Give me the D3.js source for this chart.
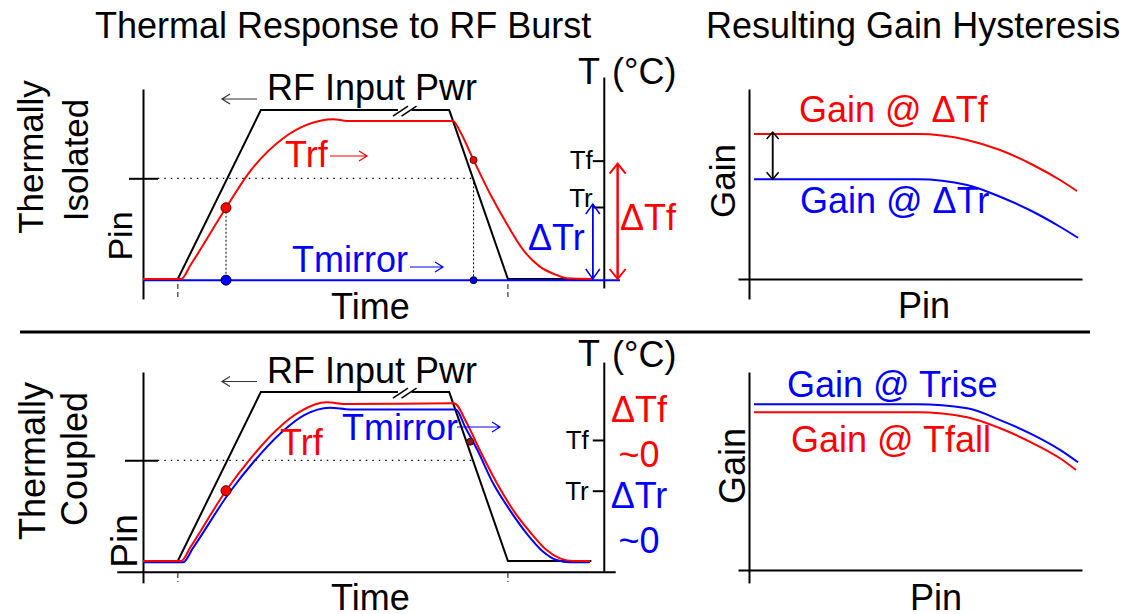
<!DOCTYPE html>
<html>
<head>
<meta charset="utf-8">
<script src="https://cdn.jsdelivr.net/npm/d3@7"></script>
<style>
  body { margin: 0; background: #fff; }
  svg { display: block; font-family: "Liberation Sans", Arial, sans-serif; }
</style>
</head>
<body>
<div id="chart"></div>
<script>
const width = 1141;
const height = 614;

// time in % of the sweep, level in % of the axis height
const rfInput = [[0, 0], [7.3, 0], [24.7, 88.9], [64.2, 88.9], [76.5, 0], [94, 0]];
const timeMarks = [7.3, 76.5];
const breakMarks = [52.4, 54.2];
const pinLevel = 53;
const tempLabels = ['Tr', 'Tf'];

// thermally isolated
const trfIsolated = [[0, 0], [8, 0], [10, 7.5], [17.4, 37.5], [22.4, 56.5], [29.4, 74.1], [34.3, 81.1],
  [39.9, 84.1], [42.8, 83.2], [65, 83.2], [66.5, 77.5], [69.3, 62.6], [72.7, 45.1], [76.2, 29.3],
  [79.7, 15.3], [83.2, 6.5], [86.7, 2.1], [88.8, 0.4], [94.3, 0]];
const tmirrorIsolated = [[0, -0.6], [100, -0.6]];
const redDotsIsolated = [[17.4, 37.5], [69.3, 62.6]];
const blueDotsIsolated = [[17.4, -0.6], [69.3, -0.6]];
const dropLinesIsolated = [[17.4, 37.5], [69.3, 53]];
const tempTicksIsolated = [37.9, 62.3];

// thermally coupled
const trfCoupled = [[0, 0], [8, 0], [10, 7.5], [17.4, 37], [22.4, 53.5], [28, 69], [32.9, 78.6],
  [38.5, 83.5], [42.7, 82.6], [65.2, 83], [67.9, 72.5], [70.6, 58.4], [74.2, 40.9], [77.6, 26.8],
  [81.1, 15.4], [84.6, 5.8], [87.4, 1.4], [90.2, 0], [93.7, 0]];
const tmirrorCoupled = [[0, -0.7], [8.4, -0.7], [10.4, 6.5], [18.2, 36.3], [23.3, 52.5], [28.9, 67.4],
  [33.8, 76.8], [39.2, 80.7], [43.4, 79.8], [65.6, 79.8], [67.5, 70.7], [70.1, 58.4], [73.4, 40.9],
  [76.9, 26.8], [80.4, 14.6], [83.9, 4.9], [86.7, 0.5], [89.5, -0.7], [93.7, -0.7]];
const redDotsCoupled = [[17.4, 37], [68.6, 62.8]];
const tempTicksCoupled = [37, 63.7];

// gain vs input power
const gainFallIsolated = [[1.5, 76.3], [50.5, 76.3], [65.5, 73.2], [75.4, 67.9], [85.3, 60], [93.4, 52.1], [98.5, 46.3]];
const gainRiseIsolated = [[1.5, 52.5], [50.5, 52.5], [65.5, 49.5], [75.4, 43.3], [85.3, 35.4], [93.4, 27.5], [98.8, 21.7]];
const gainRiseCoupled = [[1.5, 87.2], [50.5, 87.2], [65.5, 85.1], [75.4, 78.9], [85.3, 71.1], [93.4, 63.2], [98.8, 56.7]];
const gainFallCoupled = [[1.5, 83], [50.5, 83], [65.5, 80.4], [75.4, 74.6], [85.3, 66.7], [93.4, 58.8], [98.2, 52.6]];

const svg = d3.select('#chart')
  .append('svg')
  .attr('width', width)
  .attr('height', height);

const x = d3.scaleLinear().domain([0, 100]).range([143, 620]);
const xPin = d3.scaleLinear().domain([0, 100]).range([749, 1082]);

function text(str, tx, ty, opts) {
  opts = opts || {};
  const t = svg.append('text')
    .attr('font-size', opts.size || 36)
    .attr('fill', opts.color || '#000')
    .attr('text-anchor', opts.anchor || 'start')
    .text(str);
  if (opts.rotate) t.attr('transform', 'translate(' + tx + ',' + ty + ') rotate(-90)');
  else t.attr('x', tx).attr('y', ty);
  return t;
}

function arrow(x1, y1, x2, y2, color, w, hl, hw) {
  const len = Math.hypot(x2 - x1, y2 - y1);
  const ux = (x2 - x1) / len, uy = (y2 - y1) / len;
  const bx = x2 - ux * hl, by = y2 - uy * hl;
  svg.append('path')
    .attr('d', 'M' + x1 + ',' + y1 + 'L' + x2 + ',' + y2 +
      'M' + (bx - uy * hw) + ',' + (by + ux * hw) + 'L' + x2 + ',' + y2 + 'L' + (bx + uy * hw) + ',' + (by - ux * hw))
    .attr('fill', 'none')
    .attr('stroke', color)
    .attr('stroke-width', w);
}

function styleAxis(g) {
  g.selectAll('path, line').attr('stroke-width', 2);
  g.attr('font-family', null);
}

const panels = [
  { base: 279, pinAxis: [-10.5, 100], pinTick: 14, tAxis: [-4.7, 106.3], tTicks: tempTicksIsolated,
    tPad: 0, trShift: -9, marks: [-2.6, -10], trf: trfIsolated, tmirror: tmirrorIsolated,
    redDots: redDotsIsolated, blueDots: blueDotsIsolated, drops: dropLinesIsolated, guideEnd: 69.5 },
  { base: 561, pinAxis: [-11.5, 99.5], pinTick: 18, tAxis: [-5.3, 104.7], tTicks: tempTicksCoupled,
    tPad: 4, trShift: 0, marks: [-6.3, -11], trf: trfCoupled, tmirror: tmirrorCoupled,
    redDots: redDotsCoupled, blueDots: [], drops: [], guideEnd: 69, timeAxis: [-5.5, 99] }
];

panels.forEach(function(p, k) {
  const off = k * 282.5;
  const y = d3.scaleLinear().domain([0, 100]).range([p.base, p.base - 190]);
  const curve = d3.line().x(d => x(d[0])).y(d => y(d[1])).curve(d3.curveMonotoneX);

  // Pin axis with the single Pin level tick
  const pinScale = d3.scaleLinear().domain(p.pinAxis).range(p.pinAxis.map(y));
  const pinAxis = svg.append('g')
    .attr('transform', 'translate(' + x(0) + ',0)')
    .call(d3.axisLeft(pinScale).tickValues([pinLevel]).tickSize(p.pinTick).tickSizeOuter(0).tickFormat(''));
  styleAxis(pinAxis);
  pinAxis.selectAll('.tick line').attr('x1', 15);

  if (p.timeAxis) {
    const timeScale = d3.scaleLinear().domain(p.timeAxis).range(p.timeAxis.map(x));
    const tg = svg.append('g')
      .attr('transform', 'translate(0,' + y(-5.6) + ')')
      .call(d3.axisBottom(timeScale).tickValues([]).tickSizeOuter(0));
    styleAxis(tg);
  }

  // temperature axis
  const tScale = d3.scaleLinear().domain(p.tAxis).range(p.tAxis.map(y));
  const tAxis = svg.append('g')
    .attr('transform', 'translate(' + x(96.6) + ',0)')
    .call(d3.axisLeft(tScale).tickValues(p.tTicks).tickSize(11).tickSizeOuter(0).tickPadding(p.tPad)
      .tickFormat((d, i) => tempLabels[i]));
  styleAxis(tAxis);
  tAxis.selectAll('.tick text')
    .attr('font-size', 26)
    .attr('fill', '#000')
    .attr('y', (d, i) => i === 0 ? p.trShift : 0);

  // dashed time markers under the axis
  svg.append('g').selectAll('line')
    .data(timeMarks)
    .join('line')
    .attr('x1', d => x(d)).attr('x2', d => x(d))
    .attr('y1', y(p.marks[0])).attr('y2', y(p.marks[1]))
    .attr('stroke', '#333').attr('stroke-width', 1.2).attr('stroke-dasharray', '5,3');

  // dotted Pin level guide
  svg.append('line')
    .attr('x1', x(3.1)).attr('x2', x(p.guideEnd))
    .attr('y1', y(pinLevel)).attr('y2', y(pinLevel))
    .attr('stroke', '#000').attr('stroke-width', 1.3).attr('stroke-dasharray', '1.5,5');

  svg.append('g').selectAll('line')
    .data(p.drops)
    .join('line')
    .attr('x1', d => x(d[0])).attr('x2', d => x(d[0]))
    .attr('y1', d => y(d[1])).attr('y2', y(0))
    .attr('stroke', '#000').attr('stroke-width', 1).attr('stroke-dasharray', '2,2');

  // RF input burst
  svg.append('path')
    .attr('d', d3.line().x(d => x(d[0])).y(d => y(d[1]))(rfInput))
    .attr('fill', 'none').attr('stroke', '#000').attr('stroke-width', 2);

  const plat = y(rfInput[2][1]);
  svg.append('line')
    .attr('x1', x(breakMarks[0]) + 5).attr('x2', x(breakMarks[1]) + 10)
    .attr('y1', plat).attr('y2', plat)
    .attr('stroke', '#fff').attr('stroke-width', 4);
  svg.append('g').selectAll('line')
    .data(breakMarks)
    .join('line')
    .attr('x1', d => x(d)).attr('x2', d => x(d) + 15)
    .attr('y1', plat + 6).attr('y2', plat - 4)
    .attr('stroke', '#000').attr('stroke-width', 1.5);

  svg.append('path')
    .attr('d', curve(p.tmirror))
    .attr('fill', 'none').attr('stroke', '#0000ff').attr('stroke-width', 2);
  svg.append('path')
    .attr('d', curve(p.trf))
    .attr('fill', 'none').attr('stroke', '#ff0000').attr('stroke-width', 2);

  svg.append('g').selectAll('circle')
    .data(p.blueDots)
    .join('circle')
    .attr('cx', d => x(d[0])).attr('cy', d => y(d[1]))
    .attr('r', (d, i) => i === 0 ? 5 : 3.5)
    .attr('fill', '#0000ff').attr('stroke', '#000033').attr('stroke-width', 1);
  svg.append('g').selectAll('circle')
    .data(p.redDots)
    .join('circle')
    .attr('cx', d => x(d[0])).attr('cy', d => y(d[1]))
    .attr('r', (d, i) => i === 0 ? 5 : 3.5)
    .attr('fill', (d, i) => k === 1 && i === 1 ? '#802020' : '#ff0000')
    .attr('stroke', '#550000').attr('stroke-width', 1);

  // labels
  text('RF Input Pwr', 267, 100 + off);
  arrow(257, 99 + off, 222, 99 + off, '#333', 1.2, 8, 5);
  text('T', 578, 84 + off - (k ? 0.5 : 0));
  text('(°C)', 612, 84 + off);
  text('Time', 331, k ? 610 : 319);
});

// isolated panel annotations
text('Trf', 285, 167, { color: '#ff0000' });
arrow(330, 156, 367, 156, '#ff0000', 1.2, 8, 5);
text('Tmirror', 292, 272, { color: '#0000ff' });
arrow(410, 267, 443, 267, '#0000ff', 1.2, 8, 5);
const yIso = d3.scaleLinear().domain([0, 100]).range([279, 89]);
arrow(x(99.5), yIso(tempTicksIsolated[1]) + 3, x(99.5), yIso(0), '#ff0000', 2, 10, 8);
arrow(x(99.5), yIso(0), x(99.5), yIso(tempTicksIsolated[1]) + 3, '#ff0000', 2, 10, 8);
arrow(x(94.3), yIso(tempTicksIsolated[0]) - 3, x(94.3), yIso(0), '#0000ff', 1.5, 10, 7);
arrow(x(94.3), yIso(0), x(94.3), yIso(tempTicksIsolated[0]) - 3, '#0000ff', 1.5, 10, 7);
text('ΔTr', 528, 250, { color: '#0000ff' });
text('ΔTf', 620, 230, { color: '#ff0000' });

// coupled panel annotations
text('Trf', 280, 455, { color: '#ff0000' });
text('Tmirror', 342, 440, { color: '#0000ff' });
arrow(457, 427, 500, 427, '#0000ff', 1.2, 8, 5);
text('ΔTf', 639, 422, { color: '#ff0000', anchor: 'middle' });
text('~0', 639, 467, { color: '#ff0000', anchor: 'middle' });
text('ΔTr', 639, 508, { color: '#0000ff', anchor: 'middle' });
text('~0', 639, 553, { color: '#0000ff', anchor: 'middle' });

// row labels
text('Thermally', 43, 157, { rotate: true, anchor: 'middle', size: 35 });
text('Isolated', 88, 160, { rotate: true, anchor: 'middle', size: 35 });
text('Pin', 132, 236, { rotate: true, anchor: 'middle', size: 34 });
text('Thermally', 45, 461, { rotate: true, anchor: 'middle', size: 36 });
text('Coupled', 87, 459, { rotate: true, anchor: 'middle', size: 36 });
text('Pin', 137, 541, { rotate: true, anchor: 'middle', size: 37 });

// titles and divider
text('Thermal Response to RF Burst', 95, 38);
text('Resulting Gain Hysteresis', 706, 38);
svg.append('line')
  .attr('x1', 20).attr('x2', 1090).attr('y1', 332).attr('y2', 332)
  .attr('stroke', '#000').attr('stroke-width', 3);

// gain panels
const gainPanels = [
  { base: 279, gainAxis: [-10.5, 100], upper: gainFallIsolated, lower: gainRiseIsolated,
    upperColor: '#ff0000', lowerColor: '#0000ff' },
  { base: 570, gainAxis: [-6.8, 104.2], upper: gainRiseCoupled, lower: gainFallCoupled,
    upperColor: '#0000ff', lowerColor: '#ff0000' }
];

gainPanels.forEach(function(p) {
  const yg = d3.scaleLinear().domain([0, 100]).range([p.base, p.base - 190]);
  const gainScale = d3.scaleLinear().domain(p.gainAxis).range(p.gainAxis.map(yg));
  const ga = svg.append('g')
    .attr('transform', 'translate(' + xPin(0) + ',0)')
    .call(d3.axisLeft(gainScale).tickValues([]).tickSizeOuter(0));
  styleAxis(ga);
  const pinDomain = [-3.3, 100];
  const pinScale = d3.scaleLinear().domain(pinDomain).range(pinDomain.map(xPin));
  const pa = svg.append('g')
    .attr('transform', 'translate(0,' + p.base + ')')
    .call(d3.axisBottom(pinScale).tickValues([]).tickSizeOuter(0));
  styleAxis(pa);

  const curve = d3.line().x(d => xPin(d[0])).y(d => yg(d[1])).curve(d3.curveMonotoneX);
  svg.append('path').attr('d', curve(p.lower))
    .attr('fill', 'none').attr('stroke', p.lowerColor).attr('stroke-width', 2);
  svg.append('path').attr('d', curve(p.upper))
    .attr('fill', 'none').attr('stroke', p.upperColor).attr('stroke-width', 2);
});

// hysteresis gap arrow
const yGainIso = d3.scaleLinear().domain([0, 100]).range([279, 89]);
arrow(xPin(7.1), yGainIso(gainFallIsolated[0][1]) - 2, xPin(7.1), yGainIso(gainRiseIsolated[0][1]), '#000', 1.5, 7, 6);
arrow(xPin(7.1), yGainIso(gainRiseIsolated[0][1]), xPin(7.1), yGainIso(gainFallIsolated[0][1]) - 2, '#000', 1.5, 7, 6);

text('Gain @ ΔTf', 799, 122, { color: '#ff0000' });
text('Gain @ ΔTr', 800, 213, { color: '#0000ff' });
text('Gain', 735, 181, { rotate: true, anchor: 'middle', size: 35 });
text('Pin', 898, 318);
text('Gain @ Trise', 787, 397, { color: '#0000ff' });
text('Gain @ Tfall', 791, 452, { color: '#ff0000' });
text('Gain', 745, 466, { rotate: true, anchor: 'middle', size: 36 });
text('Pin', 910, 610);
</script>
</body>
</html>
